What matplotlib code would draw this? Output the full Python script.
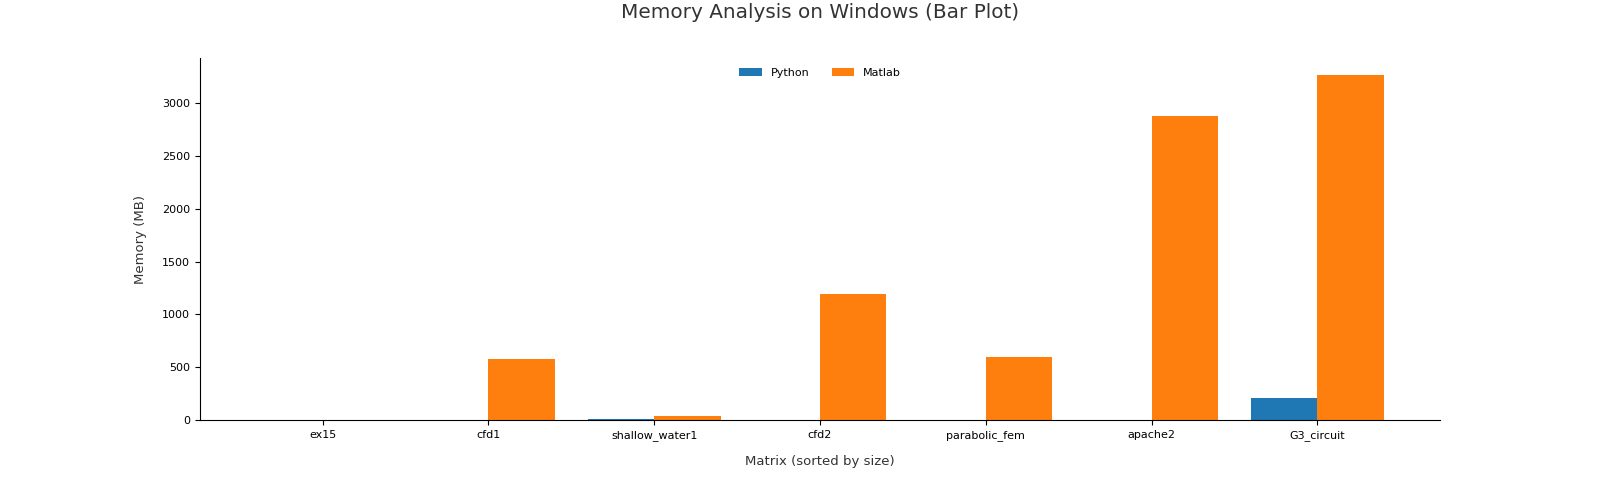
import matplotlib
matplotlib.use("Agg")
import matplotlib.pyplot as plt
import numpy as np

matrices = ["ex15", "cfd1", "shallow_water1", "cfd2", "parabolic_fem", "apache2", "G3_circuit"]
python_mem = [0, 0, 9, 0, 0, 0, 205]
matlab_mem = [0, 575, 38, 1190, 600, 2875, 3265]

fig = plt.figure(figsize=(16, 4.8), dpi=100)
ax = fig.add_axes([0.125, 0.125, 0.775, 0.754])

x = np.arange(len(matrices))
w = 0.4
ax.bar(x - w / 2, python_mem, width=w, color="#1f77b4", label="Python")
ax.bar(x + w / 2, matlab_mem, width=w, color="#ff7f0e", label="Matlab")

ax.set_xticks(x)
ax.set_xticklabels(matrices, fontsize=8)
ax.tick_params(axis="y", labelsize=8)
ax.spines["top"].set_visible(False)
ax.spines["right"].set_visible(False)

ax.set_xlabel("Matrix (sorted by size)", fontsize=9.5, color="#333333", labelpad=10)
ax.set_ylabel("Memory (MB)", fontsize=9.5, color="#333333", labelpad=11)
ax.set_title("Memory Analysis on Windows (Bar Plot)", fontsize=14.4, color="#333333", pad=28.5)

ax.legend(loc="upper center", ncol=2, frameon=False, fontsize=8, columnspacing=2.0)

fig.savefig("out.png", dpi=100)
